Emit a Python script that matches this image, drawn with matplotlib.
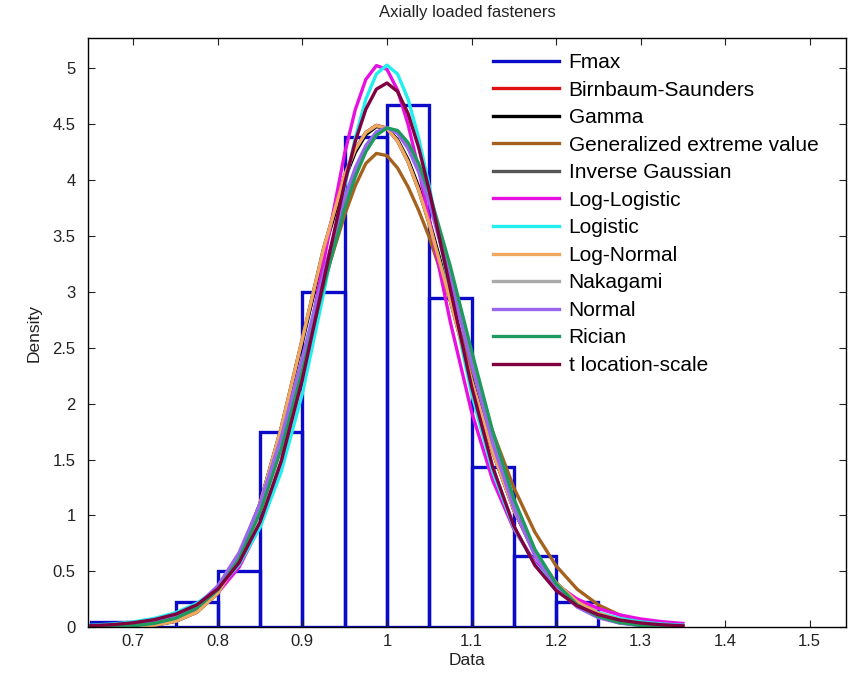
import matplotlib
matplotlib.use('Agg')
from matplotlib import pyplot as plt
from matplotlib.lines import Line2D

plt.rcParams['font.family'] = ['Liberation Sans', 'DejaVu Sans']

# histogram of Fmax (density), bins of 0.05
bin_left = [0.65, 0.70, 0.75, 0.80, 0.85, 0.90, 0.95, 1.00, 1.05, 1.10, 1.15, 1.20]
bin_height = [0.045, 0.0, 0.225, 0.50, 1.75, 3.0, 4.39, 4.67, 2.95, 1.43, 0.635, 0.225]
bin_width = 0.05

# fitted density curves
x = [0.65, 0.675, 0.70, 0.725, 0.75, 0.775, 0.80, 0.825, 0.85, 0.875, 0.90, 0.925, 0.95,
     0.9625, 0.975, 0.9875, 1.00, 1.0125, 1.025, 1.0375,
     1.05, 1.075, 1.10, 1.125, 1.15, 1.175, 1.20, 1.225, 1.25, 1.275, 1.30, 1.325, 1.35]

birnbaum = [0.001, 0.002, 0.007, 0.020, 0.054, 0.136, 0.307, 0.617, 1.109, 1.783, 2.575, 3.378, 4.038,
            4.272, 4.426, 4.491, 4.467, 4.357, 4.170, 3.918,
            3.615, 2.922, 2.210, 1.567, 1.048, 0.661, 0.397, 0.227, 0.125, 0.066, 0.034, 0.017, 0.008]
gamma = [0.001, 0.003, 0.008, 0.022, 0.059, 0.144, 0.316, 0.625, 1.109, 1.772, 2.554, 3.350, 4.011,
         4.249, 4.408, 4.480, 4.464, 4.363, 4.184, 3.940,
         3.642, 2.952, 2.234, 1.583, 1.053, 0.659, 0.391, 0.219, 0.118, 0.061, 0.030, 0.015, 0.007]
gev = [0.000, 0.001, 0.005, 0.018, 0.055, 0.140, 0.315, 0.625, 1.090, 1.700, 2.400, 3.080, 3.690,
       3.950, 4.150, 4.240, 4.220, 4.110, 3.940, 3.730,
       3.490, 2.920, 2.320, 1.750, 1.250, 0.850, 0.550, 0.340, 0.200, 0.110, 0.058, 0.028, 0.012]
inv_gauss = [0.001, 0.002, 0.006, 0.018, 0.052, 0.133, 0.304, 0.616, 1.110, 1.788, 2.585, 3.390, 4.047,
             4.278, 4.428, 4.489, 4.462, 4.350, 4.161, 3.910,
             3.608, 2.918, 2.209, 1.570, 1.051, 0.664, 0.399, 0.228, 0.125, 0.066, 0.034, 0.017, 0.008]
log_logistic = [0.006, 0.012, 0.025, 0.048, 0.091, 0.170, 0.309, 0.535, 0.911, 1.484, 2.284, 3.266, 4.241,
                4.631, 4.902, 5.026, 4.992, 4.807, 4.498, 4.098,
                3.647, 2.729, 1.929, 1.316, 0.879, 0.581, 0.383, 0.252, 0.167, 0.111, 0.074, 0.050, 0.034]
logistic = [0.018, 0.029, 0.048, 0.079, 0.130, 0.213, 0.347, 0.561, 0.894, 1.393, 2.093, 2.984, 3.945,
            4.377, 4.725, 4.951, 5.030, 4.951, 4.725, 4.377,
            3.945, 2.984, 2.093, 1.393, 0.894, 0.561, 0.347, 0.213, 0.130, 0.079, 0.048, 0.029, 0.018]
log_normal = [0.001, 0.002, 0.006, 0.019, 0.053, 0.134, 0.305, 0.616, 1.109, 1.786, 2.582, 3.386, 4.044,
              4.276, 4.427, 4.489, 4.463, 4.352, 4.164, 3.913,
              3.611, 2.920, 2.210, 1.569, 1.050, 0.663, 0.398, 0.227, 0.124, 0.065, 0.033, 0.017, 0.008]
nakagami = [0.002, 0.006, 0.015, 0.037, 0.086, 0.181, 0.353, 0.638, 1.068, 1.650, 2.355, 3.110, 3.796,
            4.072, 4.283, 4.418, 4.469, 4.432, 4.310, 4.111,
            3.844, 3.169, 2.415, 1.701, 1.108, 0.667, 0.371, 0.190, 0.090, 0.040, 0.016, 0.006, 0.002]
normal = [0.002, 0.006, 0.016, 0.040, 0.091, 0.191, 0.371, 0.666, 1.108, 1.702, 2.414, 3.169, 3.844,
          4.111, 4.311, 4.433, 4.470, 4.419, 4.284, 4.073,
          3.796, 3.110, 2.355, 1.648, 1.067, 0.638, 0.353, 0.180, 0.085, 0.037, 0.015, 0.006, 0.002]
rician = [0.002, 0.005, 0.014, 0.035, 0.080, 0.171, 0.335, 0.609, 1.027, 1.598, 2.295, 3.050, 3.747,
          4.032, 4.255, 4.403, 4.468, 4.445, 4.336, 4.149,
          3.891, 3.228, 2.475, 1.754, 1.150, 0.696, 0.390, 0.201, 0.096, 0.042, 0.017, 0.007, 0.002]
t_loc_scale = [0.014, 0.023, 0.040, 0.068, 0.117, 0.200, 0.343, 0.576, 0.943, 1.486, 2.220, 3.097, 3.975,
               4.347, 4.635, 4.815, 4.870, 4.794, 4.596, 4.292,
               3.910, 3.024, 2.155, 1.436, 0.908, 0.553, 0.328, 0.192, 0.112, 0.065, 0.038, 0.022, 0.013]

curves = [
    ('Birnbaum-Saunders', birnbaum, '#dd1111'),
    ('Gamma', gamma, '#000000'),
    ('Generalized extreme value', gev, '#a5621f'),
    ('Inverse Gaussian', inv_gauss, '#555555'),
    ('Log-Logistic', log_logistic, '#e810e0'),
    ('Logistic', logistic, '#22eeee'),
    ('Log-Normal', log_normal, '#f0a860'),
    ('Nakagami', nakagami, '#aaaaaa'),
    ('Normal', normal, '#9966ee'),
    ('Rician', rician, '#1f9a5f'),
    ('t location-scale', t_loc_scale, '#800040'),
]

blue = '#0a0ac8'

fig = plt.figure(figsize=(8.56, 6.84), dpi=100)
ax = fig.add_axes([0.103, 0.083, 0.885, 0.861])

ax.bar(bin_left, bin_height, width=bin_width, align='edge', fill=False,
       edgecolor=blue, linewidth=2.4)

handles = [Line2D([], [], color=blue, linewidth=2.4)]
labels = ['Fmax']
for name, ys, col in curves:
    ln, = ax.plot(x, ys, color=col, linewidth=2.4, solid_joinstyle='round')
    handles.append(ln)
    labels.append(name)

ax.set_xlim(0.6466, 1.5426)
ax.set_ylim(0, 5.27)
ax.set_xticks([0.7, 0.8, 0.9, 1.0, 1.1, 1.2, 1.3, 1.4, 1.5])
ax.set_xticklabels(['0.7', '0.8', '0.9', '1', '1.1', '1.2', '1.3', '1.4', '1.5'])
ax.set_yticks([0, 0.5, 1, 1.5, 2, 2.5, 3, 3.5, 4, 4.5, 5])
ax.set_yticklabels(['0', '0.5', '1', '1.5', '2', '2.5', '3', '3.5', '4', '4.5', '5'])
ax.tick_params(direction='in', top=True, right=True, length=5, labelsize=12, colors='#222222')
ax.tick_params(axis='y', pad=9)
ax.tick_params(axis='x', pad=5)
for s in ax.spines.values():
    s.set_linewidth(1.0)

ax.set_xlabel('Data', fontsize=12.5, color='#222222', labelpad=3)
ax.set_ylabel('Density', fontsize=12.5, color='#222222', labelpad=8)
ax.set_title('Axially loaded fasteners', fontsize=12, color='#222222', pad=15)

ax.legend(handles, labels, loc='upper left', bbox_to_anchor=(0.534, 0.975),
          frameon=False, fontsize=15, handlelength=3.2, handletextpad=0.45,
          labelspacing=0.41, borderpad=0, borderaxespad=0)

plt.savefig('out.png', dpi=100)
